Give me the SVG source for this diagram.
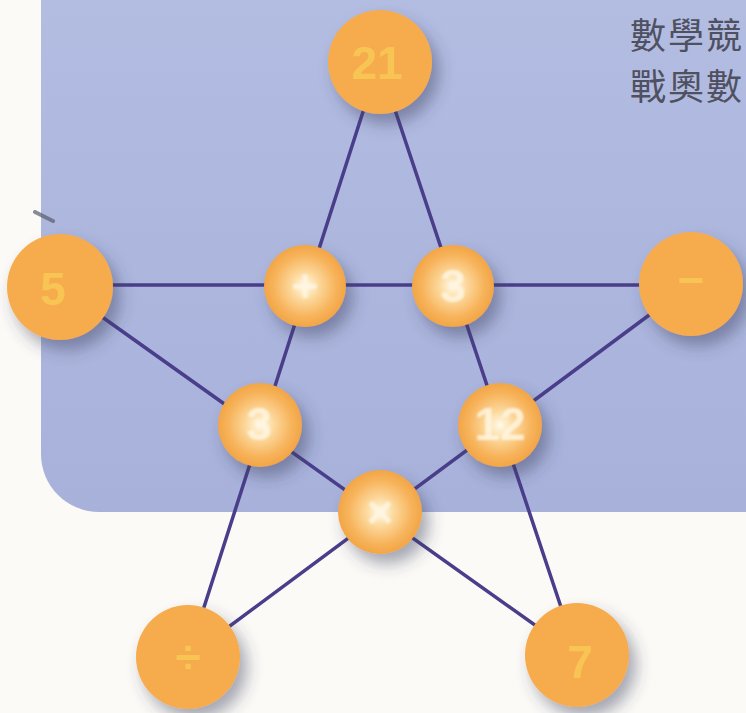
<svg xmlns="http://www.w3.org/2000/svg" width="746" height="713" viewBox="0 0 746 713">
  <defs>
    <linearGradient id="bg" x1="0" y1="0" x2="0" y2="1">
      <stop offset="0" stop-color="#B3BDE2"/>
      <stop offset="1" stop-color="#A7B1DA"/>
    </linearGradient>
    <radialGradient id="ball" cx="0.5" cy="0.5" r="0.5">
      <stop offset="0" stop-color="#FFFBEA"/>
      <stop offset="0.35" stop-color="#FCD79A"/>
      <stop offset="0.75" stop-color="#F7B45C"/>
      <stop offset="1" stop-color="#F2A545"/>
    </radialGradient>
    <filter id="sh" x="-50%" y="-50%" width="200%" height="200%">
      <feGaussianBlur in="SourceAlpha" stdDeviation="8"/>
      <feOffset dx="7" dy="10" result="b"/>
      <feFlood flood-color="#3C3F5E" flood-opacity="0.45"/>
      <feComposite in2="b" operator="in"/>
      <feMerge>
        <feMergeNode/>
        <feMergeNode in="SourceGraphic"/>
      </feMerge>
    </filter>
    <filter id="soft" x="-20%" y="-20%" width="140%" height="140%">
      <feGaussianBlur stdDeviation="0.8"/>
    </filter>
  </defs>
  <style>
    .outer { fill: #F6AB4E; filter: url(#sh); }
    .inner { fill: url(#ball); filter: url(#sh); }
    .otxt { font-family: "Liberation Sans", Arial, sans-serif; font-size: 46px; font-weight: bold; fill: #F8C554; text-anchor: middle; dominant-baseline: central; }
    .itxt { font-family: "Liberation Sans", Arial, sans-serif; font-size: 46px; font-weight: bold; fill: #FFF6E2; fill-opacity: 0.85; text-anchor: middle; dominant-baseline: central; filter: url(#soft); }
    .edge { stroke: #4A3E8B; stroke-width: 3.5; fill: none; stroke-linecap: round; }
    .cjk { font-family: "Noto Sans CJK TC", "Noto Sans CJK SC", sans-serif; font-size: 36px; letter-spacing: 2px; fill: #4F5060; }
  </style>

  <rect x="0" y="0" width="746" height="713" fill="#FBFAF6"/>
  <path d="M41,0 V454 A58,58 0 0 0 99,512 H746 V0 Z" fill="url(#bg)"/>
  <path d="M35,212 L53,221" stroke="#5A5C70" stroke-width="4" stroke-linecap="round" opacity="0.7"/>

  <g id="title">
    <text class="cjk" x="630" y="49">數學競</text>
    <text class="cjk" x="630" y="100">戰奧數</text>
  </g>

  <g id="connectors">
    <line class="edge" x1="60" y1="285" x2="691" y2="285"/>
    <line class="edge" x1="379" y1="62" x2="188" y2="657"/>
    <line class="edge" x1="379" y1="62" x2="577" y2="655"/>
    <line class="edge" x1="60" y1="287" x2="577" y2="655"/>
    <line class="edge" x1="691" y1="284" x2="188" y2="657"/>
  </g>

  <g id="n21"><circle class="outer" cx="380" cy="62" r="52"/><text class="otxt" x="377" y="63">21</text></g>
  <g id="n5"><circle class="outer" cx="60" cy="287" r="53"/><text class="otxt" x="53" y="289">5</text></g>
  <g id="nminus"><circle class="outer" cx="691" cy="284" r="52"/><text class="otxt" x="691" y="280">−</text></g>
  <g id="ndiv"><circle class="outer" cx="188" cy="657" r="52"/><text class="otxt" x="188" y="657">÷</text></g>
  <g id="n7"><circle class="outer" cx="577" cy="655" r="52"/><text class="otxt" x="580" y="662" font-weight="normal">7</text></g>

  <g id="nplus"><circle class="inner" cx="305" cy="286" r="41"/><text class="itxt" x="305" y="286">+</text></g>
  <g id="n3a"><circle class="inner" cx="453" cy="286" r="41"/><text class="itxt" x="453" y="286">3</text></g>
  <g id="n3b"><circle class="inner" cx="260" cy="425" r="42"/><text class="itxt" x="259" y="424">3</text></g>
  <g id="n12"><circle class="inner" cx="500" cy="425" r="42"/><text class="itxt" x="500" y="424">12</text></g>
  <g id="ntimes"><circle class="inner" cx="380" cy="512" r="42"/><text class="itxt" x="380" y="512">×</text></g>
</svg>
